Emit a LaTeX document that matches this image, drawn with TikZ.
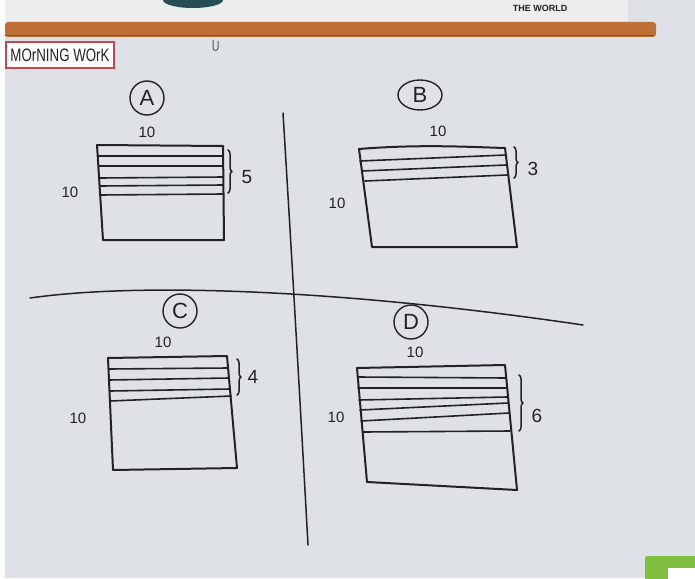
\documentclass[tikz,border=0pt]{standalone}
\usepackage{fontspec}
\setmainfont{Liberation Sans}
\usepackage{xcolor}
\usepackage{tikz}
\usetikzlibrary{decorations.pathreplacing,shapes.geometric}

\definecolor{board}{RGB}{222,226,230}
\definecolor{poster}{RGB}{236,237,238}
\definecolor{ledge}{RGB}{190,112,54}
\definecolor{ledgedark}{RGB}{140,78,36}
\definecolor{marker}{RGB}{34,34,36}
\definecolor{globe}{RGB}{38,78,84}
\definecolor{tagred}{RGB}{196,70,82}
\definecolor{bin}{RGB}{128,190,64}

\tikzset{
  ink/.style={draw=marker, line width=2pt, line cap=round, line join=round},
  stripe/.style={draw=marker, line width=1.6pt, line cap=round},
  hand/.style={text=marker, inner sep=0pt, font=\fontsize{15}{15}\selectfont},
  count/.style={hand, font=\fontsize{19}{19}\selectfont},
  letter/.style={draw=marker, line width=1.4pt, circle, minimum size=34pt, inner sep=0pt,
    text=marker, font=\fontsize{22}{22}\selectfont},
  curly/.style={ink, line width=1.5pt, decorate, decoration={brace, amplitude=4pt}}
}

\begin{document}
\begin{tikzpicture}[x=1pt, y=-1pt]
\useasboundingbox (0,0) rectangle (695,578);
% whiteboard, poster strip and marker ledge
\fill[board] (0,0) rectangle (695,578);
\fill[white!92!board] (0,0) rectangle (5,578);
\fill[poster] (5,0) rectangle (628,24);
\fill[globe] (193,0) ellipse (30 and 8);
\node[text=marker, font=\bfseries\fontsize{9}{9}\selectfont] (world) at (540,8) {THE WORLD};
\fill[ledge, rounded corners=3pt] (5,22) rectangle (656,37);
\draw[ledgedark, line width=1.2pt] (5,35.5) -- (654,35.5);
\draw[gray!70!black, line width=1pt] (213,40) -- (213,48) arc (180:0:2.5) -- (218,41);
\node[draw=tagred, line width=1.5pt, fill=white, minimum width=108pt, minimum height=26pt,
  inner sep=0pt, text=marker] (morning) at (60,55)
  {\scalebox{0.74}[1]{\fontsize{18}{18}\selectfont MOrNING WOrK}};
\fill[bin, rounded corners=2pt] (645,556) rectangle (700,582);
\fill[white] (668,568) rectangle (700,582);

% dividing lines
\draw[ink, line width=1.5pt] (283,113) .. controls (292,260) and (300,400) .. (308,545);
\draw[ink, line width=1.5pt] (30,298) .. controls (150,281) and (360,292) .. (583,325);

% A: 5 of 10 rows
\node[letter] (circA) at (147,98) {A};
\node[hand] (topA) at (147,132) {10};
\node[hand] (sideA) at (70,192) {10};
\draw[ink] (97,145) -- (223,146) -- (224,240) -- (103,240) -- cycle;
\draw[stripe] (98,156) -- (223,156);
\draw[stripe] (99,166) -- (223,166);
\draw[stripe] (100,178) -- (223,177);
\draw[stripe] (100,186) -- (223,185);
\draw[stripe] (100,195) -- (223,194);
\draw[curly] (228,150) -- (228,193);
\node[count] (cntA) at (247,177) {5};

% B: 3 of 10 rows
\node[letter, ellipse, minimum width=44pt, minimum height=30pt] (circB) at (420,95) {B};
\node[hand] (topB) at (438,131) {10};
\node[hand] (sideB) at (337,203) {10};
\draw[ink] (359,149) .. controls (420,144) and (470,147) .. (505,148) -- (517,247) -- (372,247) -- cycle;
\draw[stripe] (360,161) -- (506,155);
\draw[stripe] (362,171) -- (506,165);
\draw[stripe] (365,181) -- (507,175);
\draw[curly] (514,147) -- (514,178);
\node[count] (cntB) at (533,169) {3};

% C: 4 of 10 rows
\node[letter] (circC) at (180,311) {C};
\node[hand] (topC) at (163,342) {10};
\node[hand] (sideC) at (78,418) {10};
\draw[ink] (108,358) -- (227,356) -- (237,468) -- (113,470) -- cycle;
\draw[stripe] (109,369) -- (228,368);
\draw[stripe] (109,380) -- (229,378);
\draw[stripe] (110,391) -- (230,389);
\draw[stripe] (110,401) -- (231,396);
\draw[curly] (237,359) -- (237,395);
\node[count] (cntC) at (253,377) {4};

% D: 6 of 10 rows
\node[letter] (circD) at (411,322) {D};
\node[hand] (topD) at (415,352) {10};
\node[hand] (sideD) at (336,417) {10};
\draw[ink] (357,368) -- (505,365) -- (517,490) -- (367,482) -- cycle;
\draw[stripe] (358,377) -- (506,378);
\draw[stripe] (358,388) -- (506,388);
\draw[stripe] (359,400) -- (507,397);
\draw[stripe] (360,410) -- (508,403);
\draw[stripe] (361,421) -- (509,413);
\draw[stripe] (363,432) -- (510,431);
\draw[curly] (519,375) -- (519,431);
\node[count] (cntD) at (537,416) {6};
\end{tikzpicture}
\end{document}
